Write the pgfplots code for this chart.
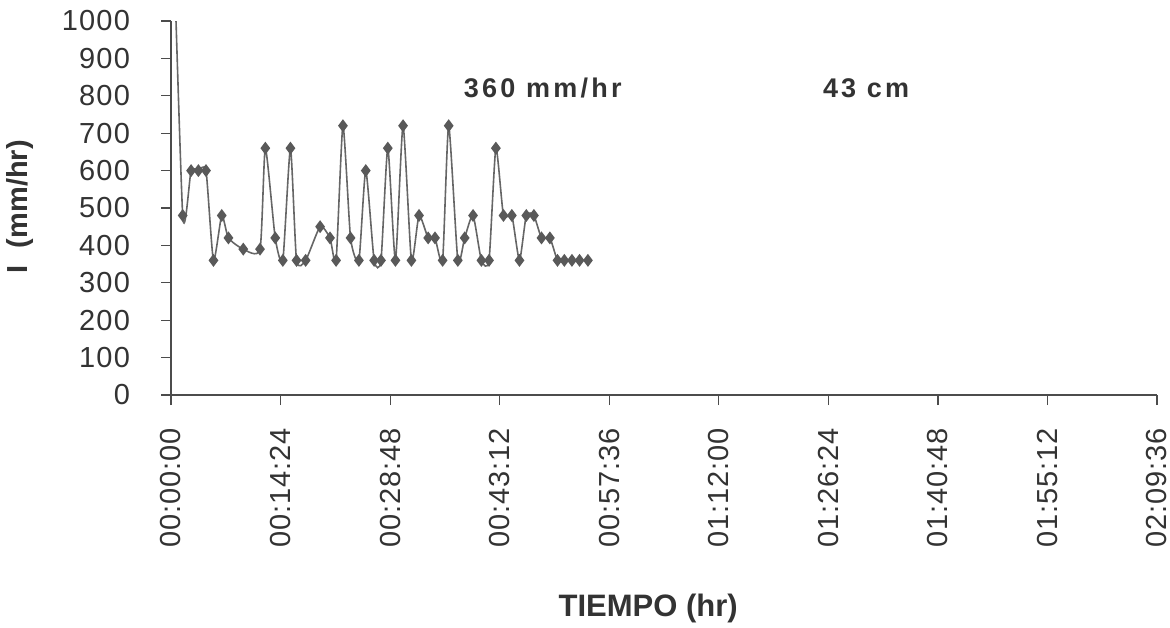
\documentclass[border=0pt]{standalone}
\usepackage{fontspec}
\setmainfont{Liberation Sans}
\usepackage{pgfplots}
\pgfplotsset{compat=1.18}
\begin{document}
\begin{tikzpicture}
\useasboundingbox (-85.5pt,-116pt) rectangle (499.5pt,197.5pt);
\begin{axis}[
  at={(0,0)}, anchor=south west,
  scale only axis, width=493pt, height=187pt,
  xmin=0, xmax=129.6, ymin=0, ymax=1000,
  axis x line=bottom, axis y line=left,
  axis line style={-, black!70, line width=0.6pt},
  xtick={0,14.4,28.8,43.2,57.6,72,86.4,100.8,115.2,129.6},
  xticklabels={00:00:00,00:14:24,00:28:48,00:43:12,00:57:36,01:12:00,01:26:24,01:40:48,01:55:12,02:09:36},
  ytick={0,100,200,300,400,500,600,700,800,900,1000},
  tick align=outside, major tick length=5pt,
  tick style={black!70, line width=0.6pt},
  x tick label style={rotate=90, anchor=east, font=\fontsize{14.5}{16}\selectfont\addfontfeature{LetterSpace=3}, text=black!80},
  y tick label style={anchor=east, font=\fontsize{14.5}{16}\selectfont\addfontfeature{LetterSpace=4}, text=black!80},
  xticklabel shift=8pt,
  yticklabel shift=12pt,
  /pgf/number format/assume math mode=true,
  /pgf/number format/1000 sep={},
  xlabel={TIEMPO (hr)}, ylabel={I\hspace{0.6em}(mm/hr)},
  xlabel style={at={(axis description cs:0.484,-0.572)}, anchor=center, font=\bfseries\fontsize{15.5}{17}\selectfont, text=black!80},
  ylabel style={at={(axis description cs:-0.153,0.503)}, anchor=center, font=\bfseries\fontsize{14.5}{17}\selectfont, text=black!80},
  clip mode=global,
]
\addplot[smooth, tension=0.35, color=black!60, line width=0.8pt,
  mark=diamond*, mark size=2.6pt, mark options={fill=black!65, draw=black!65, solid}]
coordinates {
(0,1440) (1.54,480) (2.64,600) (3.6,600) (4.6,600) (5.58,360) (6.67,480)
(7.55,420) (9.5,390) (11.7,390) (12.4,660) (13.7,420) (14.7,360) (15.7,660)
(16.5,360) (17.7,360) (19.6,450) (20.9,420) (21.7,360) (22.6,720) (23.6,420)
(24.7,360) (25.6,600) (26.7,360) (27.6,360) (28.5,660) (29.5,360) (30.5,720)
(31.6,360) (32.6,480) (33.8,420) (34.7,420) (35.7,360) (36.5,720) (37.7,360)
(38.6,420) (39.7,480) (40.8,360) (41.8,360) (42.7,660) (43.7,480) (44.8,480)
(45.8,360) (46.7,480) (47.7,480) (48.7,420) (49.8,420) (50.8,360) (51.7,360)
(52.7,360) (53.7,360) (54.8,360)
};
\node[font=\bfseries\fontsize{13.5}{15}\selectfont\addfontfeature{LetterSpace=12}, text=black!80] at (rel axis cs:0.377,0.821) {360 mm/hr};
\node[font=\bfseries\fontsize{13.5}{15}\selectfont\addfontfeature{LetterSpace=12}, text=black!80] at (rel axis cs:0.705,0.821) {43 cm};
\end{axis}
\end{tikzpicture}
\end{document}
